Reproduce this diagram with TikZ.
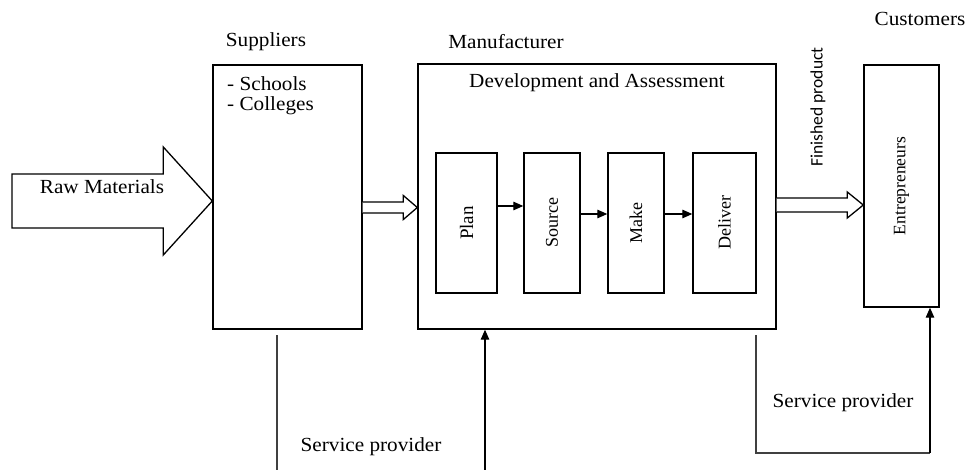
\documentclass[tikz,border=0pt]{standalone}
\usepackage{fontspec}
\setmainfont{Liberation Serif}
\newfontfamily\hfont{Liberation Serif}[FakeStretch=1.06]
\newfontfamily\carlfont{Carlito}
\usetikzlibrary{arrows.meta,calc}
\begin{document}
\begin{tikzpicture}[x=1pt,y=-1pt,
  box/.style={draw, line width=1.4pt, inner sep=0pt},
  lbl/.style={font=\hfont\fontsize{20}{20}\selectfont, inner sep=0pt},
  rlbl/.style={font=\fontsize{18}{22}\selectfont},
  arr/.style={line width=1.3pt, -{Triangle[length=10pt,width=8.5pt]}},
  sline/.style={line width=1.4pt, draw=black!75},
  hollow/.style={draw, line width=1.3pt, fill=white, line join=miter}]
\useasboundingbox (0,0) rectangle (966,470);

% boxes
\node[box, minimum width=149, minimum height=264] (sup) at (287.5,197) {};
\node[box, minimum width=358, minimum height=265] (man) at (597,196.5) {};
\node[box, minimum width=61, minimum height=140, rlbl] (plan) at (466.5,223) {\rotatebox{90}{\fontsize{19}{22}\selectfont Plan}};
\node[box, minimum width=56, minimum height=140, rlbl] (source) at (552,223) {\rotatebox{90}{Source}};
\node[box, minimum width=56, minimum height=140, rlbl] (make) at (636,223) {\rotatebox{90}{Make}};
\node[box, minimum width=63, minimum height=140, rlbl] (deliver) at (724.5,223) {\rotatebox{90}{Deliver}};
\node[box, minimum width=75, minimum height=242, rlbl] (ent) at (901.5,186) {\rotatebox{90}{\fontsize{17.5}{21}\selectfont Entrepreneurs}};

% inner arrows
\draw[arr] (plan.east |- 0,206) -- (source.west |- 0,206);
\draw[arr] (source.east |- 0,214) -- (make.west |- 0,214);
\draw[arr] (make.east |- 0,214) -- (deliver.west |- 0,214);

% raw materials hollow arrow
\coordinate (rmt) at (sup.west |- 0,201);
\coordinate (rms) at (12,201);
\draw[hollow] ($(rms)+(0,-27)$) -- ($(rmt)+(-49,-27)$) -- ($(rmt)+(-49,-54)$) -- (rmt)
  -- ($(rmt)+(-49,54)$) -- ($(rmt)+(-49,27)$) -- ($(rms)+(0,27)$) -- cycle;

% suppliers -> manufacturer hollow arrow
\coordinate (a1) at (sup.east |- 0,207.5);
\coordinate (a2) at (man.west |- 0,207.5);
\draw[hollow] ($(a1)+(0,-5.5)$) -- ($(a2)+(-14,-5.5)$) -- ($(a2)+(-14,-12)$) -- (a2)
  -- ($(a2)+(-14,12)$) -- ($(a2)+(-14,5.5)$) -- ($(a1)+(0,5.5)$);

% finished product hollow arrow
\coordinate (f1) at (man.east |- 0,205);
\coordinate (f2) at (ent.west |- 0,205);
\draw[hollow] ($(f1)+(0,-7)$) -- ($(f2)+(-16,-7)$) -- ($(f2)+(-16,-13)$) -- (f2)
  -- ($(f2)+(-16,13)$) -- ($(f2)+(-16,7)$) -- ($(f1)+(0,7)$);

% labels
\node[lbl] (tsup) at (266,42) {Suppliers};
\node[lbl] (tman) at (506,42) {Manufacturer};
\node[lbl] (tcus) at (920,19) {Customers};
\node[lbl] (tdev) at (597,83) {Development and Assessment};
\node[lbl, anchor=north west, align=left] (tsch) at (227,76) {- Schools\\- Colleges};
\node[lbl] (traw) at (102,187) {Raw Materials};
\node[inner sep=0pt, font=\carlfont\fontsize{17.5}{21}\selectfont, rotate=90] (tfin) at (818,107) {Finished product};
\node[lbl] (tsp1) at (371,447) {Service provider};
\node[lbl] (tsp2) at (843,403) {Service provider};

% service provider lines
\coordinate (b1) at (277,335);
\coordinate (b1e) at (277,470);
\draw[sline] (b1) -- (b1e);
\coordinate (b2) at (485,470);
\draw[arr] (b2) -- (man.south -| b2);
\coordinate (c1) at (756,335);
\coordinate (c2) at (756,453);
\coordinate (c3) at (930,453);
\draw[sline] (c1) -- (c2) -- (c3);
\draw[arr] (c3) -- (ent.south -| c3);
\end{tikzpicture}
\end{document}
